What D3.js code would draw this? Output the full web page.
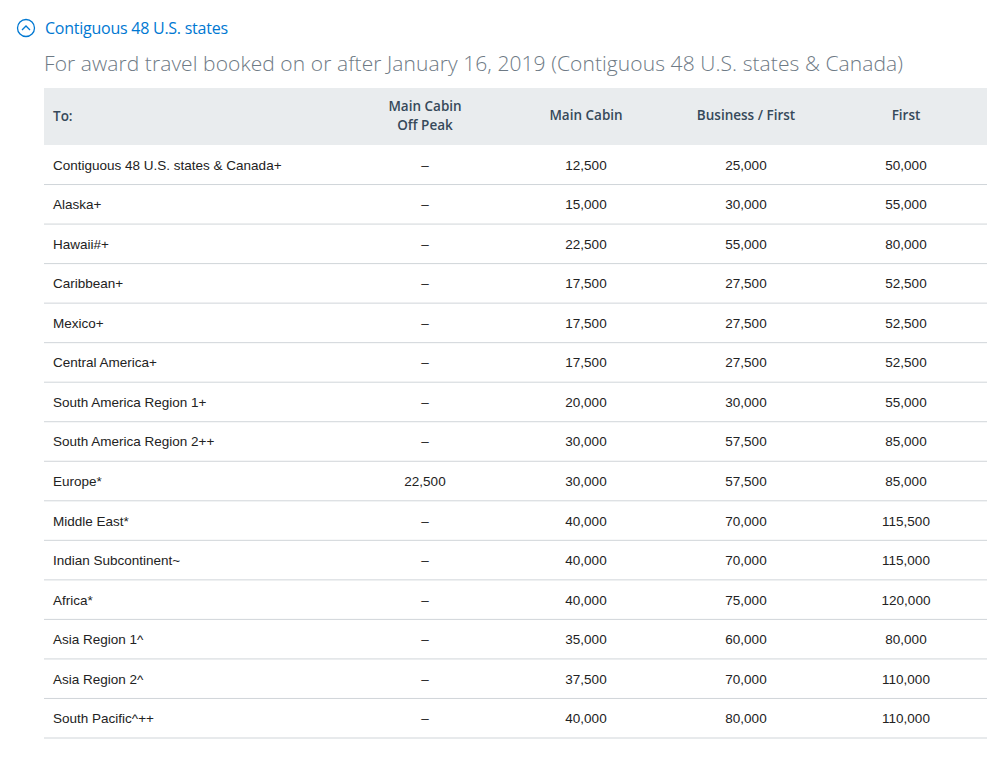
<!DOCTYPE html>
<html>
<head>
<meta charset="utf-8">
<script src="https://cdn.jsdelivr.net/npm/d3@7"></script>
<style>
  body { margin: 0; background: #fff; }
  text { font-family: "Liberation Sans", Arial, sans-serif; }
  .humanist { font-family: "Open Sans", "Noto Sans", sans-serif; }
</style>
</head>
<body>
<div id="chart"></div>
<script>
// table data
var destinations = ["Contiguous 48 U.S. states & Canada+", "Alaska+", "Hawaii#+", "Caribbean+", "Mexico+",
  "Central America+", "South America Region 1+", "South America Region 2++", "Europe*", "Middle East*",
  "Indian Subcontinent~", "Africa*", "Asia Region 1^", "Asia Region 2^", "South Pacific^++"];
var columns = [["Main Cabin", "Off Peak"], ["Main Cabin"], ["Business / First"], ["First"]];
var offPeak = [null, null, null, null, null, null, null, null, 22500, null, null, null, null, null, null];
var mainCabin = [12500, 15000, 22500, 17500, 17500, 17500, 20000, 30000, 30000, 40000, 40000, 40000, 35000, 37500, 40000];
var businessFirst = [25000, 30000, 55000, 27500, 27500, 27500, 30000, 57500, 57500, 70000, 70000, 75000, 60000, 70000, 80000];
var first = [50000, 55000, 80000, 52500, 52500, 52500, 55000, 85000, 85000, 115500, 115000, 120000, 80000, 110000, 110000];

var svgWidth = 1000, svgHeight = 759;
var tableLeft = 44, tableRight = 987, headTop = 88, headBottom = 145, tableBottom = 738;

var svg = d3.select("#chart").append("svg")
  .attr("width", svgWidth).attr("height", svgHeight);

// title with circle icon
svg.append("circle").attr("cx", 26).attr("cy", 28).attr("r", 8.5)
  .attr("fill", "none").attr("stroke", "#0078d2").attr("stroke-width", 1.3);
svg.append("path").attr("d", "M22,30 L26,26 L30,30")
  .attr("fill", "none").attr("stroke", "#0078d2").attr("stroke-width", 1.3);
svg.append("text").attr("class", "humanist").attr("x", 45).attr("y", 34).attr("fill", "#0078d2")
  .attr("font-size", 16).attr("textLength", 183).text("Contiguous 48 U.S. states");
svg.append("text").attr("class", "humanist").attr("x", 44).attr("y", 71).attr("fill", "#6e7a85")
  .attr("font-size", 21).attr("font-weight", 300).attr("textLength", 859)
  .text("For award travel booked on or after January 16, 2019 (Contiguous 48 U.S. states & Canada)");

// header band
svg.append("rect").attr("x", tableLeft).attr("y", headTop)
  .attr("width", tableRight - tableLeft).attr("height", headBottom - headTop).attr("fill", "#e9ecee");

var x = d3.scaleOrdinal().domain([0, 1, 2, 3]).range([425, 586, 746, 906]);
var y = d3.scaleBand().domain(d3.range(destinations.length)).range([headBottom, tableBottom]);

svg.append("text").attr("class", "humanist").attr("x", 53).attr("y", 121).attr("font-size", 13.5)
  .attr("font-weight", 600).attr("fill", "#36495a").text("To:");

columns.forEach(function(lines, i) {
  var t = svg.append("text").attr("class", "humanist").attr("x", x(i)).attr("text-anchor", "middle")
    .attr("font-size", 13.5).attr("font-weight", 600).attr("fill", "#36495a")
    .attr("y", lines.length === 2 ? 111 : 120);
  lines.forEach(function(l, j) {
    t.append("tspan").attr("x", x(i)).attr("dy", j === 0 ? 0 : 19).text(l);
  });
});

// rows
var fmt = d3.format(",");
var rows = svg.selectAll(".row").data(destinations).enter().append("g")
  .attr("transform", function(d, i) { return "translate(0," + y(i) + ")"; });

rows.append("line").attr("x1", tableLeft).attr("x2", tableRight)
  .attr("y1", y.bandwidth()).attr("y2", y.bandwidth())
  .attr("stroke", "#d0d5d9").attr("stroke-width", 1);

rows.append("text").attr("x", 53).attr("y", y.bandwidth() / 2 + 5)
  .attr("font-size", 13.5).attr("fill", "#222").text(function(d) { return d; });

var series = [offPeak, mainCabin, businessFirst, first];
series.forEach(function(vals, c) {
  rows.append("text").attr("x", x(c)).attr("y", y.bandwidth() / 2 + 5)
    .attr("text-anchor", "middle").attr("font-size", 13.5).attr("fill", "#222")
    .text(function(d, i) { return vals[i] == null ? "–" : fmt(vals[i]); });
});
</script>
</body>
</html>
